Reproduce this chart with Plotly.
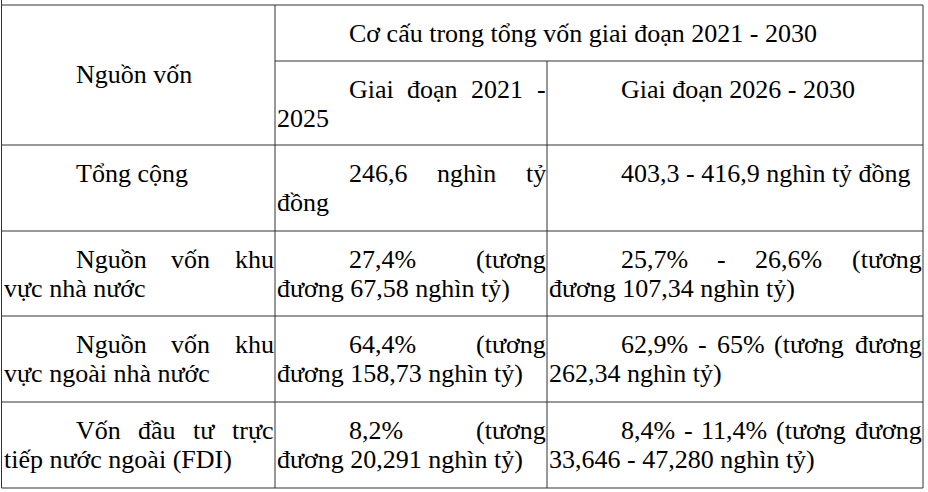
import unicodedata
import plotly.graph_objects as go

# noi dung bang
tieu_de_hang = "Nguồn vốn"
tieu_de_nhom = "Cơ cấu trong tổng vốn giai đoạn 2021 - 2030"
giai_doan = ["Giai đoạn 2021 - 2025", "Giai đoạn 2026 - 2030"]
nguon_von = [
    "Tổng cộng",
    "Nguồn vốn khu vực nhà nước",
    "Nguồn vốn khu vực ngoài nhà nước",
    "Vốn đầu tư trực tiếp nước ngoài (FDI)",
]
gd_2021_2025 = [
    "246,6 nghìn tỷ đồng",
    "27,4% (tương đương 67,58 nghìn tỷ)",
    "64,4% (tương đương 158,73 nghìn tỷ)",
    "8,2% (tương đương 20,291 nghìn tỷ)",
]
gd_2026_2030 = [
    "403,3 - 416,9 nghìn tỷ đồng",
    "25,7% - 26,6% (tương đương 107,34 nghìn tỷ)",
    "62,9% - 65% (tương đương 262,34 nghìn tỷ)",
    "8,4% - 11,4% (tương đương 33,646 - 47,280 nghìn tỷ)",
]

FONT = "Liberation Serif"
SIZE = 26
LINE_H = 29
COLOR_LINE = "#333333"

col_x = [1.5, 275, 547, 923]
row_y = [5, 61, 145, 231, 316, 402, 488]
INDENT = 72

# do rong ky tu (em) kieu Times
W = {" ": .25, ",": .25, ".": .25, "-": .333, "%": .833, "(": .333, ")": .333,
     "a": .444, "b": .5, "c": .444, "d": .5, "e": .444, "f": .333, "g": .5,
     "h": .5, "i": .278, "j": .278, "k": .5, "l": .278, "m": .778, "n": .5,
     "o": .5, "p": .5, "q": .5, "r": .333, "s": .389, "t": .278, "u": .5,
     "v": .5, "w": .722, "x": .5, "y": .5, "z": .444, "đ": .5,
     "C": .667, "D": .722, "F": .556, "G": .722, "I": .333, "N": .722,
     "T": .611, "V": .722}


def text_w(s):
    w = 0
    for ch in unicodedata.normalize("NFD", s):
        if ch == "\u031b":
            w += .04
        elif unicodedata.combining(ch):
            continue
        elif ch.isdigit():
            w += .5
        else:
            w += W.get(ch, .5)
    return w * SIZE


annotations = []


def word(x, y, s, anchor="left"):
    annotations.append(dict(x=x, y=y - 9, xref="x", yref="y", text=s,
                            showarrow=False, xanchor=anchor, yanchor="middle",
                            borderpad=0, borderwidth=0,
                            font=dict(family=FONT, size=SIZE, color="black")))


def paragraph(text, c0, c1, base):
    left = col_x[c0] + 2
    right = col_x[c1] - 1.5
    words = text.split()
    lines = []
    cur = []
    start = left + INDENT
    for w_ in words:
        trial = cur + [w_]
        if cur and start + text_w(" ".join(trial)) > right:
            lines.append((start, cur))
            cur = [w_]
            start = left
        else:
            cur = trial
    lines.append((start, cur))
    for i, (x0, ws) in enumerate(lines):
        y = base + i * LINE_H
        last = i == len(lines) - 1
        if last or len(ws) == 1:
            word(x0, y, " ".join(ws))
            continue
        # can deu hai ben
        widths = [text_w(w_) for w_ in ws]
        gap = (right - x0 - sum(widths)) / (len(ws) - 1)
        x = x0
        for j, w_ in enumerate(ws):
            if j == len(ws) - 1:
                word(right, y, w_, "right")
            else:
                word(x, y, w_)
            x += widths[j] + gap


# tieu de
paragraph(tieu_de_hang, 0, 1, (row_y[0] + row_y[2]) / 2 + 8)
paragraph(tieu_de_nhom, 1, 3, row_y[0] + 37.5)
paragraph(giai_doan[0], 1, 2, row_y[1] + 37.5)
paragraph(giai_doan[1], 2, 3, row_y[1] + 37.5)

for k in range(len(nguon_von)):
    base = row_y[k + 2] + 37.5
    paragraph(nguon_von[k], 0, 1, base)
    paragraph(gd_2021_2025[k], 1, 2, base)
    paragraph(gd_2026_2030[k], 2, 3, base)

shapes = []
ln = dict(color=COLOR_LINE, width=1)
# duong ngang
for i, y in enumerate(row_y):
    x0 = col_x[1] if i == 1 else col_x[0]
    shapes.append(dict(type="line", xref="x", yref="y", x0=x0, x1=col_x[-1],
                       y0=y, y1=y, line=ln))
# duong doc
for i, x in enumerate(col_x):
    y0 = row_y[1] if i == 2 else row_y[0]
    if i == 0:
        y0 = 0
    shapes.append(dict(type="line", xref="x", yref="y", x0=x, x1=x,
                       y0=y0, y1=row_y[-1], line=ln))

fig = go.Figure()
fig.update_layout(
    width=928, height=492,
    margin=dict(l=0, r=0, t=0, b=0),
    paper_bgcolor="white", plot_bgcolor="white",
    xaxis=dict(range=[0, 928], visible=False, fixedrange=True),
    yaxis=dict(range=[492, 0], visible=False, fixedrange=True),
    shapes=shapes, annotations=annotations, showlegend=False,
)
# bo le trang cua trang html de bang nam dung vi tri
fig.write_html("out.html", include_plotlyjs=True, full_html=True,
               config={"displayModeBar": False},
               post_script="document.body.style.margin='0';")
